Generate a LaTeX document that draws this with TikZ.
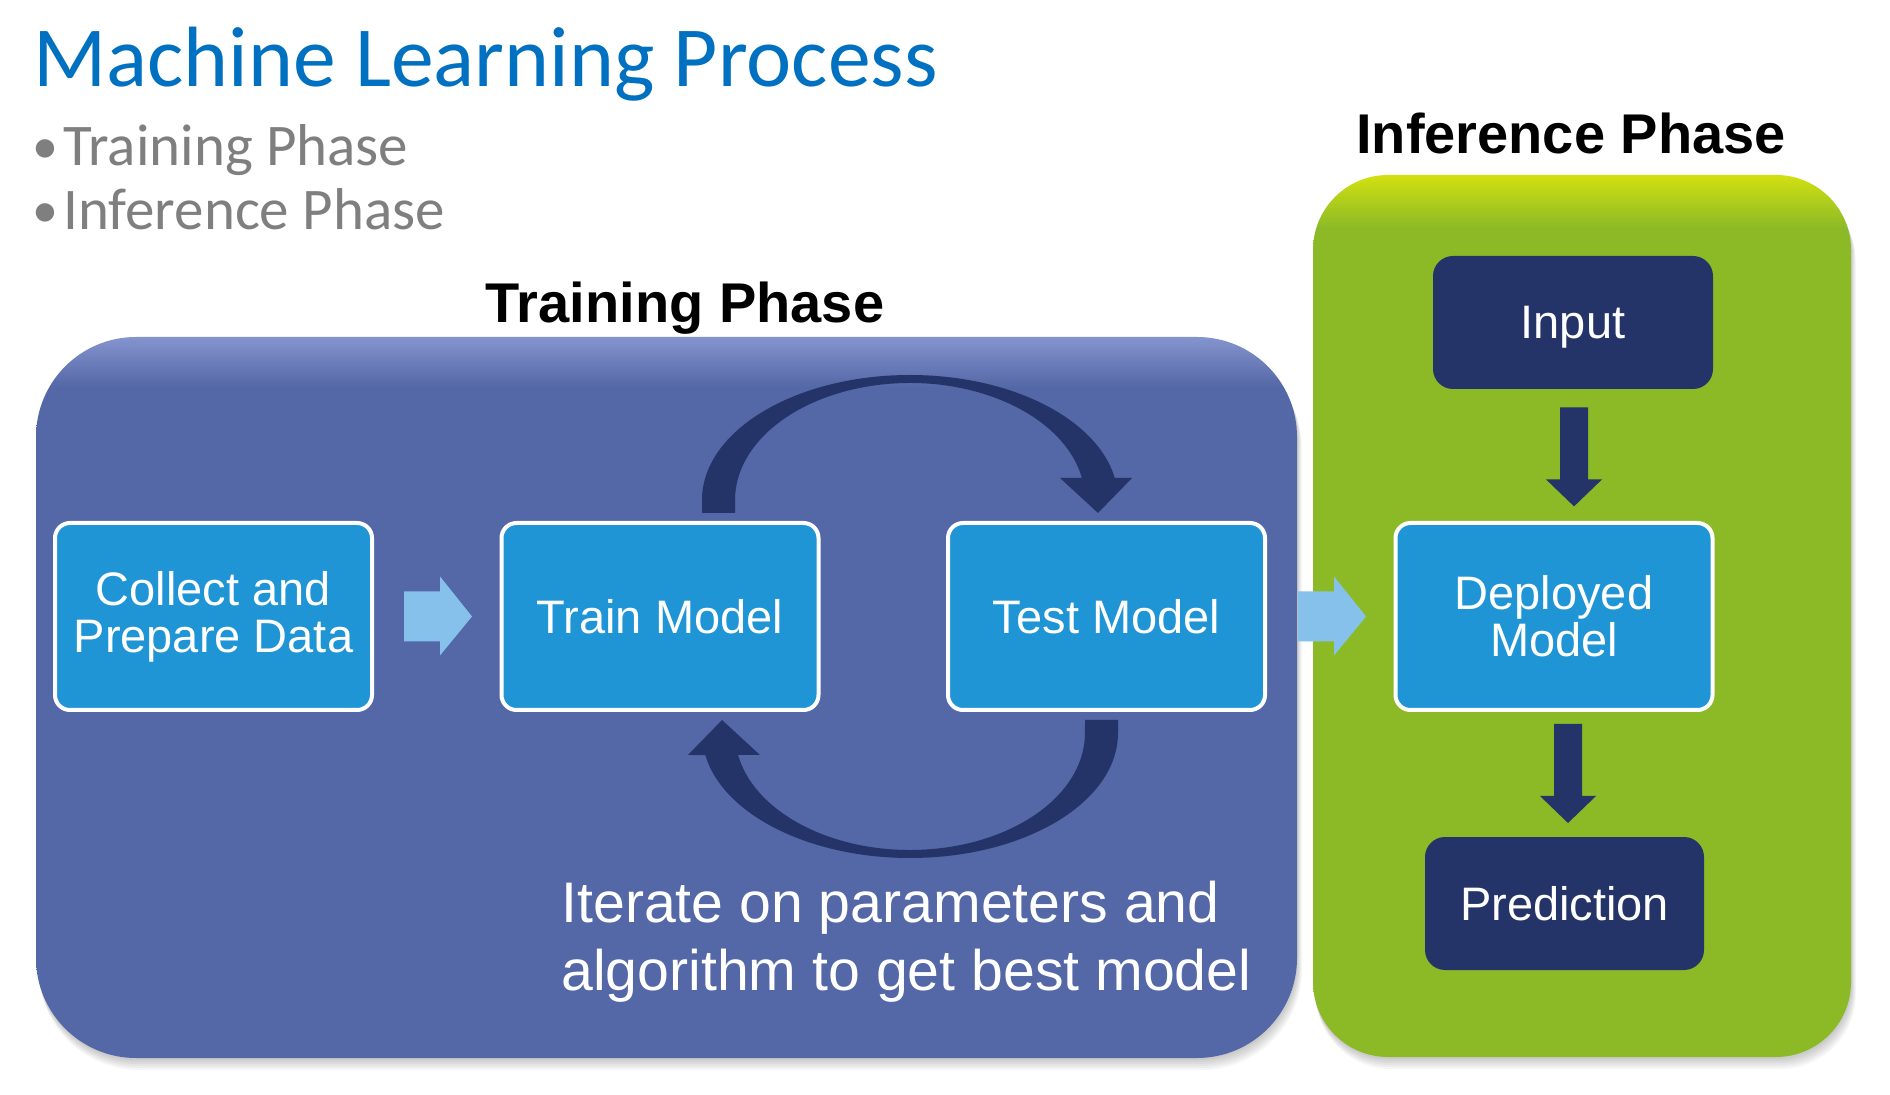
\documentclass[tikz,border=0pt]{standalone}
\usepackage{fontspec}
\setmainfont{Liberation Sans}
\newfontfamily\calib{Carlito}
\usetikzlibrary{calc}
\definecolor{titleblue}{HTML}{0070C0}
\definecolor{bulletgray}{HTML}{7F7F7F}
\definecolor{tblue}{HTML}{5467A6}
\definecolor{tbluetop}{HTML}{8494CE}
\definecolor{tgreen}{HTML}{8CBA27}
\definecolor{tgreentop}{HTML}{D2E010}
\definecolor{boxblue}{HTML}{1F95D6}
\definecolor{navy}{HTML}{243468}
\definecolor{lightarr}{HTML}{86C1EB}
\pgfdeclareverticalshading{blueshade}{100bp}{color(0bp)=(tblue); color(71.5bp)=(tblue); color(75bp)=(tbluetop); color(100bp)=(tbluetop)}
\pgfdeclareverticalshading{greenshade}{100bp}{color(0bp)=(tgreen); color(72bp)=(tgreen); color(75bp)=(tgreentop); color(100bp)=(tgreentop)}
\begin{document}
\begin{tikzpicture}[x=0.5pt,y=-0.5pt,
  lbox/.style={draw=white, line width=2pt, fill=boxblue, rounded corners=7.5pt, minimum width=158.5pt, minimum height=93.5pt, inner sep=0pt, text=white, align=center, font=\fontsize{23.5}{23.5}\selectfont},
  dbox/.style={fill=navy, rounded corners=10pt, minimum width=140pt, minimum height=66.5pt, inner sep=0pt, text=white, text depth=0pt, font=\fontsize{23.5}{23.5}\selectfont},
  phase/.style={font=\bfseries\fontsize{28}{28}\selectfont, anchor=base, inner sep=0pt},
  calibtext/.style={anchor=base west, inner sep=0pt, text=bulletgray, font=\calib\fontsize{29.5}{29.5}\selectfont},
  bulletmark/.style={anchor=base west, inner sep=0pt, text=bulletgray, font=\calib\fontsize{26}{26}\selectfont},
  pics/rightarr/.style={code={\fill[lightarr] (0,-25) -- (36,-25) -- (36,-40) -- (68,0) -- (36,39) -- (36,25) -- (0,25) -- cycle;}},
  pics/downarr/.style={code={\fill[navy] (-14,0) -- (14,0) -- (14,72) -- (28,72) -- (0,99) -- (-28,72) -- (-14,72) -- cycle;}},
  pics/cyclearr/.style={code={\fill[navy] (-208,-103.5) -- (-208,-116.5)
      arc[start angle=180, end angle=349.86, x radius=208, y radius=125]
      -- (222,-138.5) -- (188,-103.5) -- (150,-138.5) -- (171.9,-138.5)
      arc[start angle=349.16, end angle=180, x radius=175, y radius=117]
      -- (-175,-103.5) -- cycle;}},
]
\useasboundingbox (0,0) rectangle (1890,1095);
\fill[white] (0,0) rectangle (1890,1095);

% shadows
\foreach \i in {1,...,6} {
  \fill[black, opacity=0.035, rounded corners=50pt] (36+\i*0.5,337+\i*2) rectangle (1297+\i*0.8,1058+\i*2);
  \fill[black, opacity=0.035, rounded corners=37.5pt] (1313+\i*0.5,175+\i*2) rectangle (1851+\i*0.8,1057+\i*2);
}
% phase regions
\shade[shading=blueshade, rounded corners=50pt] (36,337) rectangle (1297,1058);
\shade[shading=greenshade, rounded corners=37.5pt] (1313,175) rectangle (1851,1057);

% titles
\node[anchor=base west, inner sep=0pt, text=titleblue, font=\calib\fontsize{42.8}{42.8}\selectfont] (title) at (33,87) {Machine Learning Process};
\node[bulletmark] (b1) at (32,164) {•};
\node[calibtext] (t1) at (63,166) {Training Phase};
\node[bulletmark] (b2) at (32,228) {•};
\node[calibtext] (t2) at (63,230) {Inference Phase};
\node[phase] (trainlabel) at (685,323) {Training Phase};
\node[phase] (inflabel) at (1571,154) {Inference Phase};

% loop arrows
\coordinate (loopc) at (910,616.5);
\pic at (loopc) {cyclearr};
\pic[rotate=180] at (loopc) {cyclearr};

% boxes
\node[lbox] (collect) at (213.5,616.5) {Collect and\\Prepare Data};
\node[lbox] (train) at (660,616.5) {Train Model};
\node[lbox] (test) at (1106.5,616.5) {Test Model};
\node[lbox] (deployed) at (1554,616.5) {Deployed\\Model};
\node[dbox] (input) at (1573,322.5) {Input};
\node[dbox, minimum width=139.5pt] (prediction) at (1564.5,903.5) {Prediction};

\node[anchor=base west, inner sep=0pt, text=white, align=left, font=\fontsize{28.6}{34}\selectfont] (iter) at (561,990) {Iterate on parameters and\\algorithm to get best model};

% block arrows
\pic at ($(collect.east)+(30,0)$) {rightarr};
\pic at ($(test.east)+(31,0)$) {rightarr};
\pic at ($(input.south)+(1,18)$) {downarr};
\pic at ($(deployed.south)+(14,12)$) {downarr};
\end{tikzpicture}
\end{document}
